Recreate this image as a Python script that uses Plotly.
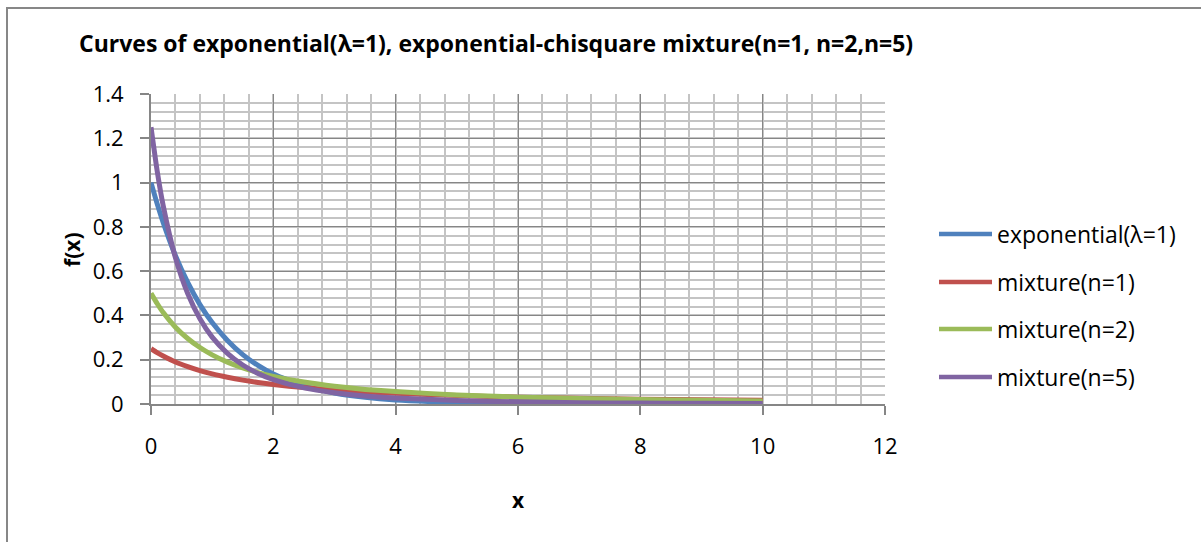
import plotly.graph_objects as go

# Sample points along x
x_vals = [0, 0.1, 0.2, 0.4, 0.6, 0.8, 1.0, 1.25, 1.5, 1.75, 2, 2.5, 3, 3.5, 4, 5, 6, 7, 8, 9, 10]

# Density values per series
exponential = [1.000, 0.905, 0.819, 0.670, 0.549, 0.449, 0.368, 0.287, 0.223, 0.174, 0.135,
               0.082, 0.050, 0.030, 0.018, 0.007, 0.002, 0.001, 0.000, 0.000, 0.000]
mixture_n1 = [0.250, 0.232, 0.217, 0.190, 0.169, 0.151, 0.136, 0.121, 0.108, 0.097, 0.088,
              0.074, 0.063, 0.055, 0.048, 0.038, 0.031, 0.026, 0.022, 0.019, 0.017]
mixture_n2 = [0.500, 0.454, 0.413, 0.347, 0.296, 0.255, 0.222, 0.189, 0.163, 0.142, 0.125,
              0.099, 0.080, 0.066, 0.056, 0.041, 0.031, 0.025, 0.020, 0.017, 0.014]
mixture_n5 = [1.250, 1.054, 0.895, 0.660, 0.499, 0.385, 0.302, 0.229, 0.176, 0.138, 0.110,
              0.073, 0.051, 0.036, 0.027, 0.016, 0.010, 0.006, 0.004, 0.003, 0.002]

series_names = ["exponential(λ=1)", "mixture(n=1)", "mixture(n=2)", "mixture(n=5)"]
series_values = [exponential, mixture_n1, mixture_n2, mixture_n5]
series_colors = ["#4F81BD", "#C0504D", "#9BBB59", "#8064A2"]

x_ticks = [0, 2, 4, 6, 8, 10, 12]
y_ticks = [0, 0.2, 0.4, 0.6, 0.8, 1, 1.2, 1.4]
y_tick_text = ["0", "0.2", "0.4", "0.6", "0.8", "1", "1.2", "1.4"]

W, H = 1201, 542
PL, PR, PT, PB = 151, 885, 94, 404  # plot area in pixels


def px(xp):
    return (xp - PL) / (PR - PL)


def py(yp):
    return (PB - yp) / (PB - PT)


FONT = "Open Sans"
GRID_MAJOR = "#868686"
GRID_MINOR = "#C4C4C4"

fig = go.Figure()
for name, vals, col in zip(series_names, series_values, series_colors):
    fig.add_trace(go.Scatter(
        x=x_vals, y=vals, mode="lines", name=name,
        line=dict(color=col, width=5, shape="spline", smoothing=0.6),
        showlegend=False,
    ))

axis_common = dict(
    showline=True, linecolor=GRID_MAJOR, linewidth=2,
    showgrid=True, gridcolor=GRID_MAJOR, gridwidth=1.3,
    zeroline=False, ticks="outside", ticklen=9, tickcolor=GRID_MAJOR, tickwidth=1.5,
    tickfont=dict(family=FONT, size=22, color="black"),
)

fig.update_xaxes(
    range=[0, 12], tickmode="array", tickvals=x_ticks,
    minor=dict(tick0=0, dtick=0.4, showgrid=True, gridcolor=GRID_MINOR, gridwidth=1.8, ticks=""),
    ticklabelstandoff=13,
    **axis_common,
)
fig.update_yaxes(
    range=[0, 1.4], tickmode="array", tickvals=y_ticks, ticktext=y_tick_text,
    minor=dict(tick0=0, dtick=0.04, showgrid=True, gridcolor=GRID_MINOR, gridwidth=1.8, ticks=""),
    ticklabelstandoff=12,
    **axis_common,
)

annotations = [
    dict(text="<b>Curves of exponential(λ=1), exponential-chisquare mixture(n=1, n=2,n=5)</b>",
         x=px(496), y=py(43), xref="paper", yref="paper", showarrow=False,
         font=dict(family=FONT, size=23, color="black"), xanchor="center", yanchor="middle"),
    dict(text="<b>x</b>", x=px(518), y=py(500), xref="paper", yref="paper", showarrow=False,
         font=dict(family=FONT, size=21, color="black"), xanchor="center", yanchor="middle"),
    dict(text="<b>f(x)</b>", x=px(72), y=py(250), xref="paper", yref="paper", showarrow=False,
         textangle=-90, font=dict(family=FONT, size=21, color="black"),
         xanchor="center", yanchor="middle"),
]

shapes = [
    # outer chart frame
    dict(type="rect", xref="paper", yref="paper", x0=px(7), x1=px(1215), y0=py(560), y1=py(8),
         line=dict(color="#878787", width=2), layer="below"),
]

# Legend drawn to the right of the plot area
legend_rows = [234, 282, 329, 377]
for name, col, yr in zip(series_names, series_colors, legend_rows):
    shapes.append(dict(type="line", xref="paper", yref="paper", x0=px(939), x1=px(992),
                       y0=py(yr), y1=py(yr), line=dict(color=col, width=4.5)))
    annotations.append(dict(text=name, x=px(995), y=py(yr), xref="paper", yref="paper",
                            showarrow=False, xanchor="left", yanchor="middle",
                            font=dict(family=FONT, size=23, color="black")))

fig.update_layout(
    width=W, height=H,
    margin=dict(l=PL, r=W - PR, t=PT, b=H - PB),
    paper_bgcolor="white", plot_bgcolor="white",
    annotations=annotations, shapes=shapes,
    showlegend=False,
)

fig.write_html("out.html")
